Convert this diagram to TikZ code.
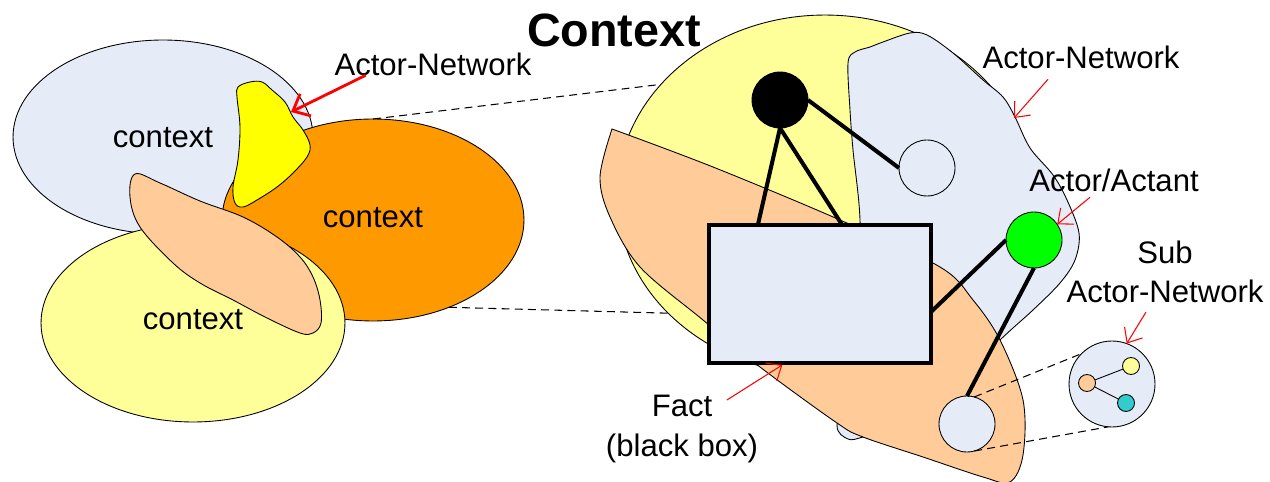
\documentclass[tikz,border=0pt]{standalone}
\usepackage{fontspec}
\setmainfont{Liberation Sans}
\usetikzlibrary{arrows.meta,calc,positioning,shapes.geometric}
\definecolor{paleblue}{HTML}{E6ECF7}
\definecolor{paleyellow}{HTML}{FFFF99}
\definecolor{deeporange}{HTML}{FF9900}
\definecolor{peach}{HTML}{FFCC99}
\definecolor{brightyellow}{HTML}{FFFF00}
\definecolor{actorgreen}{HTML}{00FF00}
\definecolor{subteal}{HTML}{33CCCC}

\begin{document}
\begin{tikzpicture}[x=0.02cm, y=-0.02cm, >=Latex,
  font=\fontsize{17.7}{22.5}\selectfont,
  ctx/.style={ellipse, draw=black, line width=0.5pt, inner sep=0pt, outer sep=0pt},
  blob/.style={draw=black, line width=0.5pt},
  actor/.style={circle, draw=black, line width=0.5pt, fill=paleblue, minimum size=1.12cm, inner sep=0pt, outer sep=0pt},
  mini/.style={circle, draw=black, line width=0.5pt, minimum size=0.34cm, inner sep=0pt, outer sep=0pt},
  tie/.style={line width=2.3pt},
  note/.style={inner sep=2pt, align=center},
  pointer/.style={red, line width=0.6pt, -{Straight Barb[length=7pt,width=12pt]}},
  zoomline/.style={line width=0.6pt, dash pattern=on 4.5pt off 3pt}]
  \useasboundingbox (0,0) rectangle (1270,482);
  \clip (0,0) rectangle (1270,482);

  % left: overlapping contexts
  \node[ctx, fill=paleblue, minimum width=6cm, minimum height=3.88cm] (ctxA) at (163,137) {};
  \node[ctx, fill=deeporange, minimum width=6.04cm, minimum height=4.04cm] (ctxB) at (373,220) {};
  \node[ctx, fill=paleyellow, minimum width=6.08cm, minimum height=3.96cm] (ctxC) at (193,323) {};
  \draw[blob, fill=peach] plot[smooth cycle, tension=0.6] coordinates {(135,174) (160,183) (200,201) (243,217) (277,237) (300,257) (313,277) (320,300) (321,323) (313,333) (300,333) (267,318) (233,300) (200,283) (173,263) (140,227) (130,197)};
  \draw[blob, fill=brightyellow] plot[smooth cycle, tension=0.6] coordinates {(238,87) (250,82) (262,82) (272,90) (285,102) (293,117) (303,130) (310,145) (307,157) (293,173) (277,187) (257,200) (243,207) (235,203) (233,187) (238,160) (240,127) (237,97)};
  \node (lblCtxA) at ($(ctxA)+(0,1)$) {context};
  \node (lblCtxB) at ($(ctxB)+(0,-2)$) {context};
  \node (lblCtxC) at ($(ctxC)+(0,-3)$) {context};

  \node[note] (lblA) at (433,64) {Actor-Network};
  \coordinate (tailA) at ($(lblA.south west)+(35,-4)$);
  \coordinate (tipA) at (291,112);
  \draw[red, line width=1.6pt, -{Straight Barb[length=8pt,width=14pt]}] (tailA) -- (tipA);

  % right: the context zoomed in
  \node[ctx, fill=paleyellow, minimum width=8.32cm, minimum height=7.2cm] (bigctx) at (825,195) {};
  \draw[blob, fill=paleblue] plot[smooth cycle, tension=0.55] coordinates {(848,63) (855,52) (870,47) (883,42) (910,33) (927,35) (953,53) (983,80) (1003,97) (1015,117) (1030,148) (1053,175) (1067,200) (1079,233) (1075,260) (1060,283) (1033,310) (1000,340) (950,390) (900,425) (863,437) (848,439) (837,425) (850,380) (858,300) (860,220) (853,150) (850,110)};
  \draw[blob, fill=peach] plot[smooth, tension=0.55] coordinates {(612,129) (713,167) (840,220) (940,267) (973,300) (1000,340) (1023,400) (1023,455) (1010,482) (983,477) (923,457) (863,437) (837,423) (760,367) (703,320) (640,267) (610,217) (600,177) (612,129)} -- cycle;

  \draw[zoomline] (ctxB.north) -- (bigctx.146);
  \draw[zoomline] (ctxB.-49) -- (bigctx.217);

  \node[draw=black, line width=2.3pt, fill=paleblue, minimum width=4.44cm, minimum height=2.76cm, inner sep=0pt, outer sep=0pt] (fact) at (820,294) {};
  \node[actor, fill=black] (hub) at (780,100) {};
  \node[actor] (act1) at (927,168) {};
  \node[actor, fill=actorgreen] (actG) at (1034,240) {};
  \node[actor] (act2) at (967,424) {};
  \draw[tie] (hub.south) -- ($(fact.north west)!0.22!(fact.north east)$);
  \draw[tie] (hub.south) -- ($(fact.north west)!0.6!(fact.north east)$);
  \draw[tie] (hub.east) -- (act1.west);
  \draw[tie] ($(fact.north east)!0.63!(fact.south east)$) -- (actG.west);
  \draw[tie] (actG.south) -- (act2.north);

  % sub actor-network
  \node[actor, minimum size=1.72cm] (sub) at (1112,384) {};
  \node[mini, fill=peach] (sp) at (1087,383) {};
  \node[mini, fill=paleyellow] (sy) at (1131,366) {};
  \node[mini, fill=subteal] (st) at (1126,403) {};
  \draw[line width=0.5pt] (sp) -- (sy);
  \draw[line width=0.5pt] (sp) -- (st);
  \draw[zoomline] (act2.75) -- (sub.135);
  \draw[zoomline] (act2.-75) -- (sub.-95);

  % labels
  \node[font=\bfseries\fontsize{26.6}{30}\selectfont] (title) at (614,30) {Context};
  \node[note] (lblB) at (1081,57) {Actor-Network};
  \coordinate (tipB) at (1014,118);
  \draw[pointer] ($(lblB.south)+(-33,7)$) -- (tipB);
  \node[note] (lblC) at (1114,180) {Actor/Actant};
  \draw[pointer] ($(lblC.south)+(-24,2)$) -- (actG.34);
  \node[note] (lblD) at (1165,272) {Sub\\Actor-Network};
  \draw[pointer] ($(lblD.south)+(-19,5)$) -- (sub.70);
  \node[note] (lblE) at (682,429) {Fact\\(black box)};
  \draw[pointer] ($(lblE.east)+(-35,-29)$) -- ($(fact.south west)!0.33!(fact.south east)+(0,2)$);
\end{tikzpicture}
\end{document}
